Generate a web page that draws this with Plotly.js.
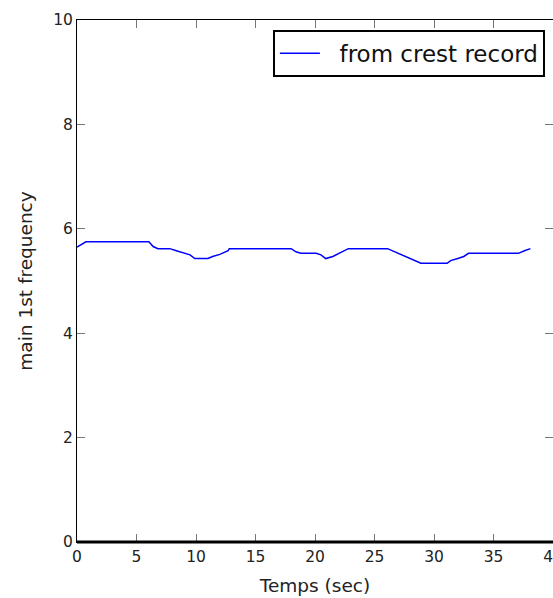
<!DOCTYPE html>
<html>
<head>
<meta charset="utf-8">
<script src="https://cdn.plot.ly/plotly-3.0.1.min.js"></script>
<style>html,body{margin:0;padding:0;background:#fff;}#chart{width:553px;height:598px;}</style>
</head>
<body>
<div id="chart"></div>
<script>
const seriesName = "from crest record";
const timeSec = [0, 0.4, 0.75, 6.04, 6.4, 6.8, 7.8, 8.35, 8.9, 9.5, 9.9, 11.0, 11.4, 12.0, 12.7, 12.8, 18.0, 18.4, 18.8, 20.1, 20.5, 20.9, 21.5, 22.2, 22.8, 26.1, 26.7, 27.4, 28.1, 28.9, 31.1, 31.4, 32.0, 32.5, 32.9, 37.1, 37.6, 38.1];
const mainFreq = [5.65, 5.70, 5.75, 5.75, 5.66, 5.62, 5.62, 5.58, 5.54, 5.50, 5.43, 5.43, 5.47, 5.51, 5.58, 5.62, 5.62, 5.56, 5.53, 5.53, 5.50, 5.43, 5.47, 5.55, 5.62, 5.62, 5.56, 5.50, 5.43, 5.34, 5.34, 5.39, 5.43, 5.47, 5.53, 5.53, 5.58, 5.62];
const xTicks = [0, 5, 10, 15, 20, 25, 30, 35, 40];
const yTicks = [0, 2, 4, 6, 8, 10];
const xTitle = "Temps (sec)";
const yTitle = "main 1st frequency";

const font = "DejaVu Sans, sans-serif";
const trace = {
  x: timeSec, y: mainFreq, type: "scatter", mode: "lines",
  name: "\u00a0\u00a0" + seriesName,
  line: {color: "#0000ff", width: 1.5}
};
const axisCommon = {
  showline: true, linecolor: "#000", linewidth: 1, mirror: "ticks",
  ticks: "inside", ticklen: 8, tickwidth: 1, tickcolor: "#777",
  showgrid: false, zeroline: false, ticklabeloverflow: "allow",
  tickfont: {family: font, size: 15.5, color: "#222"}
};
const layout = {
  width: 553, height: 598,
  margin: {l: 77, r: 0, t: 20, b: 56, pad: 0},
  paper_bgcolor: "#fff", plot_bgcolor: "#fff",
  showlegend: true,
  xaxis: Object.assign({}, axisCommon, {
    range: [0, 40], tickvals: xTicks, ticktext: xTicks.map(String),
    title: {text: xTitle, font: {family: font, size: 18.5, color: "#222"}, standoff: 14}
  }),
  yaxis: Object.assign({}, axisCommon, {
    range: [0, 10], tickvals: yTicks, ticktext: yTicks.map(String),
    title: {text: yTitle, font: {family: font, size: 18.5, color: "#222"}, standoff: 15}
  }),
  legend: {
    x: 0.983, y: 0.981, xanchor: "right", yanchor: "top",
    bordercolor: "#000", borderwidth: 2, bgcolor: "#fff",
    font: {family: font, size: 23, color: "#111"},
    itemwidth: 40
  },
  shapes: [{type: "line", xref: "paper", yref: "paper", x0: 0, x1: 1, y0: 0, y1: 0,
    line: {color: "#000", width: 3}}]
};
Plotly.newPlot("chart", [trace], layout, {displayModeBar: false, staticPlot: true});
</script>
</body>
</html>
